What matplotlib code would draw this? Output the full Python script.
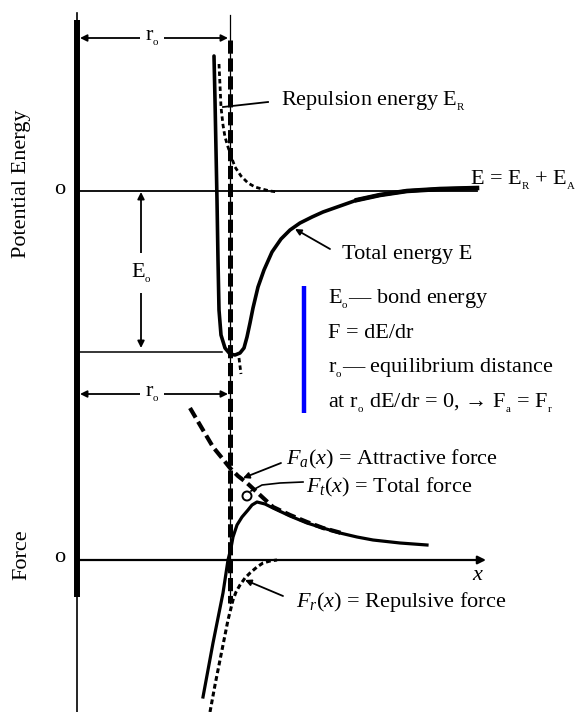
import matplotlib
matplotlib.use("Agg")
import matplotlib.pyplot as plt
from matplotlib.patches import Circle

plt.rcParams['font.family'] = ['Liberation Serif', 'DejaVu Serif']
plt.rcParams['mathtext.fontset'] = 'custom'
plt.rcParams['mathtext.rm'] = 'Liberation Serif'
plt.rcParams['mathtext.it'] = 'Liberation Serif:italic'
plt.rcParams['lines.scale_dashes'] = False

# Energy panel
total_energy_x = [214, 215, 216, 217, 218, 219, 221, 225, 230, 235, 240, 244, 247, 250, 253,
                  258, 264, 272, 281, 290, 300, 312, 323, 340, 357, 380, 407, 440, 477]
total_energy_y = [56, 100, 150, 200, 260, 310, 335, 348, 354, 355, 353, 348, 337, 323, 308,
                  287, 270, 252, 239, 230, 223, 217, 212, 206, 200, 195, 191, 189, 188]

repulsion_energy_x = [219, 220, 221, 223, 225, 228, 231, 235, 241, 248, 255, 262, 270, 278]
repulsion_energy_y = [64, 85, 107, 125, 137, 147, 156, 167, 176, 183, 187, 189, 191, 192]

attraction_energy_x = [239, 241]
attraction_energy_y = [358, 374]

# Force panel
total_force_x = [203, 208, 213, 218, 223, 228, 231, 233, 237, 242, 248, 252, 257, 265, 273,
                 290, 307, 323, 340, 357, 373, 400, 427]
total_force_y = [697, 670, 643, 618, 593, 560, 548, 537, 525, 517, 510, 505, 502, 504, 508,
                 516, 523, 528, 533, 537, 540, 543, 545]

attractive_force_x = [190, 200, 213, 222, 230, 238, 247, 260, 273, 290, 307, 323, 345]
attractive_force_y = [408, 425, 447, 458, 468, 476, 483, 495, 507, 515, 522, 528, 534]

repulsive_force_x = [210, 215, 220, 224, 228, 231, 233, 236, 240, 245, 250, 257, 263, 270, 277]
repulsive_force_y = [712, 685, 660, 640, 620, 608, 600, 592, 585, 578, 573, 567, 563, 561, 560]

# Reference levels / positions
axis_x = 77
r0_x = 230
energy_zero_y = 191
energy_min_y = 352
force_zero_y = 560

# ---------------- drawing ----------------
fig = plt.figure(figsize=(5.81, 7.12), dpi=100)
ax = fig.add_axes([0, 0, 1, 1])
ax.set_xlim(0, 581)
ax.set_ylim(712, 0)
ax.axis('off')

FS = 16


def sub(s):
    return r'$_{_\mathrm{' + s + '}}$'


# left axis: thick part and thin continuation
ax.plot([axis_x, axis_x], [13, 712], color='black', lw=1.2)
ax.plot([axis_x, axis_x], [20, 597], color='black', lw=4.3, solid_capstyle='butt')

# equilibrium distance dashed line
ax.plot([r0_x, r0_x], [15, 603], color='black', lw=0.9)
l, = ax.plot([r0_x, r0_x], [40, 603], color='black', lw=3.6, solid_capstyle='butt')
l.set_dashes((9.5, 3.4))

# reference horizontal lines
ax.plot([axis_x, 477], [energy_zero_y, energy_zero_y], color='black', lw=1.3)
ax.plot([axis_x, 222], [energy_min_y, energy_min_y], color='black', lw=1.1)
ax.annotate('', xy=(486, force_zero_y), xytext=(axis_x, force_zero_y),
            arrowprops=dict(arrowstyle='-|>', lw=1.6, color='black', mutation_scale=12,
                            shrinkA=0, shrinkB=0))

# energy curves
ax.plot(total_energy_x, total_energy_y, color='black', lw=2.6, solid_capstyle='round')
ax.plot(total_energy_x[-5:], total_energy_y[-5:], color='black', lw=3.3)
l, = ax.plot(repulsion_energy_x, repulsion_energy_y, color='black', lw=2.0)
l.set_dashes((3.2, 2.2))
l, = ax.plot(attraction_energy_x, attraction_energy_y, color='black', lw=2.0)
l.set_dashes((3.2, 2.2))

# force curves
ax.plot(total_force_x, total_force_y, color='black', lw=2.3)
l, = ax.plot(attractive_force_x, attractive_force_y, color='black', lw=3.0)
l.set_dashes((8, 3.5))
l, = ax.plot(repulsive_force_x, repulsive_force_y, color='black', lw=2.2)
l.set_dashes((3.5, 2.2))

# dimension arrows
arrow_dim = dict(arrowstyle='<|-|>', lw=1.3, color='black', mutation_scale=10,
                 shrinkA=0, shrinkB=0)
ax.annotate('', xy=(axis_x + 3, 38), xytext=(r0_x - 2, 38), arrowprops=arrow_dim)
ax.annotate('', xy=(axis_x + 3, 394), xytext=(r0_x - 2, 394), arrowprops=arrow_dim)
ax.annotate('', xy=(141, energy_zero_y + 1), xytext=(141, energy_min_y - 4), arrowprops=arrow_dim)

white = dict(facecolor='white', edgecolor='none', pad=3)
ax.text(152, 38, 'r' + sub('o'), fontsize=FS, ha='center', va='center', bbox=white)
ax.text(152, 394, 'r' + sub('o'), fontsize=FS, ha='center', va='center', bbox=white)
ax.text(141, 273, 'E' + sub('o'), fontsize=FS, ha='center', va='center',
        bbox=dict(facecolor='white', edgecolor='none', pad=6))

# axis labels
ax.text(22, 184, 'Potential Energy', fontsize=FS, rotation=90, ha='center', va='center')
ax.text(22, 555, 'Force', fontsize=FS, rotation=90, ha='center', va='center')
ax.text(60, 190, 'o', fontsize=FS, ha='center', va='center')
ax.text(60, 557, 'o', fontsize=FS, ha='center', va='center')
ax.text(478, 575, r'$x$', fontsize=FS, ha='center', va='center')

# energy annotations
ax.plot([223, 268], [107, 102], color='black', lw=1.3)
ax.text(281, 101, 'Repulsion energy E' + sub('R'), fontsize=FS, ha='left', va='center')
ax.text(470, 180, 'E = E' + sub('R') + ' + E' + sub('A'), fontsize=FS, ha='left', va='center')
ax.annotate('', xy=(295, 229), xytext=(330, 249),
            arrowprops=dict(arrowstyle='-|>', lw=1.3, color='black', mutation_scale=9,
                            shrinkA=0, shrinkB=0))
ax.text(342, 255, 'Total energy E', fontsize=FS, ha='left', va='center')

# blue bar and definitions
ax.plot([304, 304], [286, 413], color='#0000ff', lw=3.2, solid_capstyle='butt')
ax.text(328, 299, 'E' + sub('o') + '— bond energy', fontsize=FS, ha='left', va='center')
ax.text(328, 334, 'F = dE/dr', fontsize=FS, ha='left', va='center')
ax.text(328, 368, 'r' + sub('o') + '— equilibrium distance', fontsize=FS, ha='left', va='center')
ax.text(328, 403, 'at r' + sub('o') + ' dE/dr = 0, → F' + sub('a') + ' = F' + sub('r'),
        fontsize=FS, ha='left', va='center')

# force annotations
ax.annotate('', xy=(243, 478), xytext=(281, 463),
            arrowprops=dict(arrowstyle='-|>', lw=1.3, color='black', mutation_scale=9,
                            shrinkA=0, shrinkB=0))
ax.text(286, 459, r'$F_a(x)$ = Attractive force', fontsize=FS, ha='left', va='center')
ax.plot([251, 262, 280, 303], [491, 485, 483, 482], color='black', lw=1.2)
ax.add_patch(Circle((247, 496), 4.5, fill=False, lw=1.4, color='black'))
ax.text(306, 487, r'$F_t(x)$ = Total force', fontsize=FS, ha='left', va='center')
ax.annotate('', xy=(245, 580), xytext=(283, 596),
            arrowprops=dict(arrowstyle='-|>', lw=1.3, color='black', mutation_scale=9,
                            shrinkA=0, shrinkB=0))
ax.text(296, 602, r'$F_r(x)$ = Repulsive force', fontsize=FS, ha='left', va='center')

fig.savefig('out.png', dpi=100, facecolor='white')
